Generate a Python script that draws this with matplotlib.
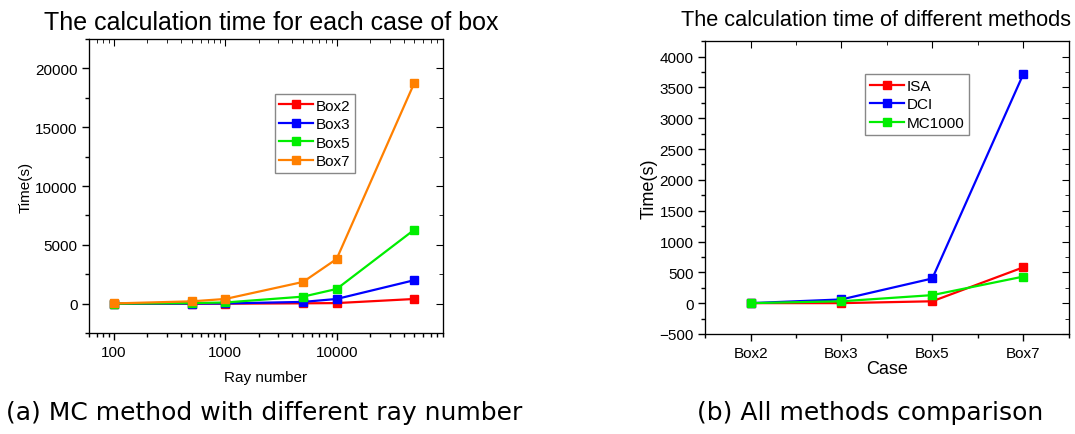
import numpy as np
import matplotlib
matplotlib.use("Agg")
import matplotlib.pyplot as plt
from matplotlib.ticker import MultipleLocator, LogLocator, NullFormatter, FixedLocator

# left panel: MC time vs ray number
rays = [100, 500, 1000, 5000, 10000, 50000]
box2 = [0, 0, 0, 30, 50, 400]
box3 = [0, 10, 20, 150, 400, 2000]
box5 = [0, 50, 100, 600, 1250, 6300]
box7 = [20, 200, 400, 1850, 3800, 18800]

# right panel: methods comparison
cases = ["Box2", "Box3", "Box5", "Box7"]
isa = [0, 0, 30, 580]
dci = [0, 60, 400, 3710]
mc1000 = [0, 30, 130, 430]

plt.rcParams['font.family'] = ['Liberation Sans', 'DejaVu Sans']

fig = plt.figure(figsize=(10.75, 4.35), dpi=100)

def style(ax):
    ax.tick_params(which='both', direction='out', top=False, right=False,
                   labelsize=11, width=1.0)
    ax.tick_params(which='major', length=5)
    ax.tick_params(which='minor', length=3)

def mirror(ax, xmaj, xmin, ymaj, ymin):
    # inward ticks on top and right edges, like Origin
    tx = ax.twiny()
    tx.set_xscale(ax.get_xscale())
    tx.set_xlim(ax.get_xlim())
    tx.xaxis.set_major_locator(xmaj)
    tx.xaxis.set_minor_locator(xmin)
    tx.xaxis.set_major_formatter(NullFormatter())
    tx.xaxis.set_minor_formatter(NullFormatter())
    tx.tick_params(which='both', direction='in', labeltop=False)
    tx.tick_params(which='major', length=5)
    tx.tick_params(which='minor', length=3)
    ty = ax.twinx()
    ty.set_ylim(ax.get_ylim())
    ty.yaxis.set_major_locator(ymaj)
    ty.yaxis.set_minor_locator(ymin)
    ty.yaxis.set_major_formatter(NullFormatter())
    ty.tick_params(which='both', direction='in', labelright=False)
    ty.tick_params(which='major', length=5)
    ty.tick_params(which='minor', length=3)

leg_kw = dict(loc='upper left', fontsize=11, fancybox=False, edgecolor='#888888',
              handlelength=2.2, borderpad=0.3, labelspacing=0.3,
              handletextpad=0.2, borderaxespad=0, framealpha=1)

# ---- left
ax1 = fig.add_axes([0.083, 0.232, 0.329, 0.676])
ax1.plot(rays, box2, '-s', color='#ff0000', ms=5.5, lw=1.6, label='Box2')
ax1.plot(rays, box3, '-s', color='#0000ff', ms=5.5, lw=1.6, label='Box3')
ax1.plot(rays, box5, '-s', color='#00ee00', ms=5.5, lw=1.6, label='Box5')
ax1.plot(rays, box7, '-s', color='#ff8000', ms=5.5, lw=1.6, label='Box7')
ax1.set_xscale('log')
ax1.set_xlim(60, 90000)
ax1.set_ylim(-2500, 22500)
ax1.xaxis.set_major_locator(FixedLocator([100, 1000, 10000]))
ax1.xaxis.set_minor_locator(LogLocator(base=10, subs=np.arange(2, 10)))
ax1.xaxis.set_minor_formatter(NullFormatter())
ax1.set_xticklabels(['100', '1000', '10000'])
ax1.yaxis.set_major_locator(MultipleLocator(5000))
ax1.yaxis.set_minor_locator(MultipleLocator(2500))
style(ax1)
ax1.set_xlabel('Ray number', fontsize=11, labelpad=8)
ax1.set_ylabel('Time(s)', fontsize=11, labelpad=2)
ax1.legend(bbox_to_anchor=(0.525, 0.813), **leg_kw)
mirror(ax1, FixedLocator([100, 1000, 10000]),
       LogLocator(base=10, subs=np.arange(2, 10)),
       MultipleLocator(5000), MultipleLocator(2500))

# ---- right
ax2 = fig.add_axes([0.656, 0.230, 0.338, 0.673])
xc = np.arange(len(cases))
ax2.plot(xc, isa, '-s', color='#ff0000', ms=5.5, lw=1.6, label='ISA')
ax2.plot(xc, dci, '-s', color='#0000ff', ms=5.5, lw=1.6, label='DCI')
ax2.plot(xc, mc1000, '-s', color='#00ee00', ms=5.5, lw=1.6, label='MC1000')
ax2.set_xlim(-0.5, 3.5)
ax2.set_ylim(-500, 4250)
ax2.set_xticks(xc)
ax2.set_xticklabels(cases)
ax2.xaxis.set_minor_locator(FixedLocator([-0.5, 0.5, 1.5, 2.5, 3.5]))
ax2.yaxis.set_major_locator(MultipleLocator(500))
ax2.yaxis.set_minor_locator(MultipleLocator(250))
style(ax2)
ax2.set_xlabel('Case', fontsize=13, labelpad=0)
ax2.set_ylabel('Time(s)', fontsize=13, labelpad=1)
ax2.legend(bbox_to_anchor=(0.441, 0.887), **leg_kw)
mirror(ax2, FixedLocator(list(xc)),
       FixedLocator([-0.5, 0.5, 1.5, 2.5, 3.5]),
       MultipleLocator(500), MultipleLocator(250))

fig.text(271 / 1075, 1 - 23 / 435, 'The calculation time for each case of box',
         ha='center', va='center', fontsize=18)
fig.text(876 / 1075, 1 - 20 / 435, 'The calculation time of different methods',
         ha='center', va='center', fontsize=15.7)

fig.text(264 / 1075, 1 - 413 / 435, '(a) MC method with different ray number',
         ha='center', va='center', fontsize=18, family='DejaVu Sans')
fig.text(870 / 1075, 1 - 413 / 435, '(b) All methods comparison',
         ha='center', va='center', fontsize=18, family='DejaVu Sans')

fig.savefig('out.png', dpi=100)
